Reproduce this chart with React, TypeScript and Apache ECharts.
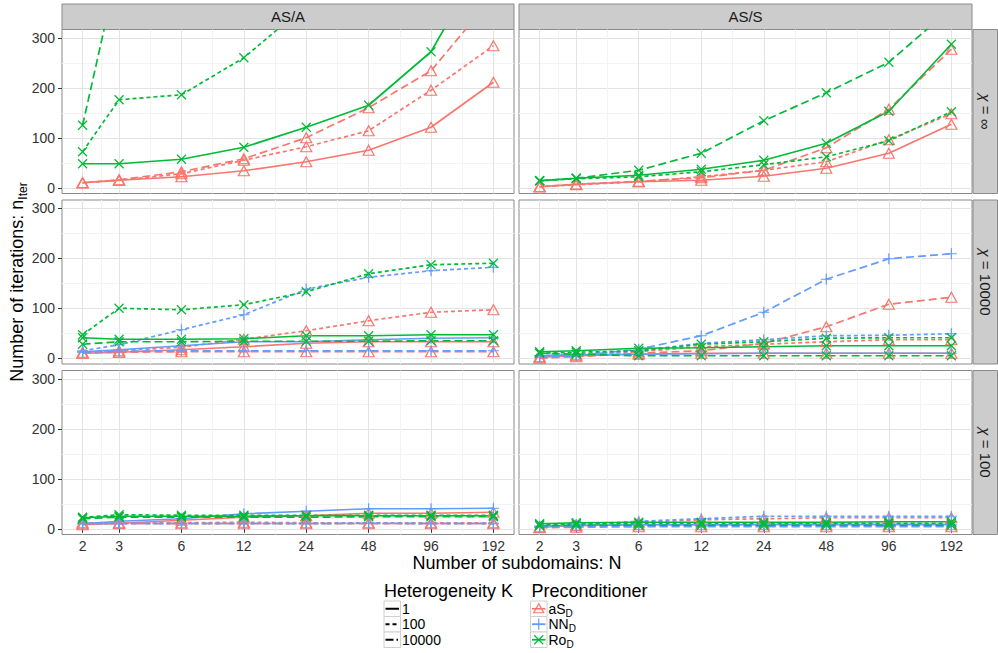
import React, { useEffect, useRef } from "react";
import * as echarts from "echarts";

// ---------- data ----------
const N = [2, 3, 6, 12, 24, 48, 96, 192];
const xTickLabels = ["2", "3", "6", "12", "24", "48", "96", "192"];
const yTicks = [0, 100, 200, 300];
const yMinorTicks = [50, 150, 250];
const columns = ["AS/A", "AS/S"];
const rowLabels = ["∞", "10000", "100"];
const preconditioners = ["aS", "NN", "Ro"];
const heterogeneities = ["1", "100", "10000"];

// AS/A, chi = inf (no NN_D); null = off the chart
const asA_inf_aS_K1 = [10, 15, 22, 34, 52, 75, 121, 211];
const asA_inf_aS_K100 = [10, 15, 28, 55, 82, 114, 195, 284];
const asA_inf_aS_K10000 = [10, 16, 32, 58, 100, 160, 234, 383];
const asA_inf_Ro_K1 = [48, 48, 57, 81, 121, 165, 272, 490];
const asA_inf_Ro_K100 = [72, 176, 186, 260, 365, null, null, null];
const asA_inf_Ro_K10000 = [125, 450, null, null, null, null, null, null];

// AS/S, chi = inf
const asS_inf_aS_K1 = [2, 7, 12, 15, 23, 39, 69, 127];
const asS_inf_aS_K100 = [2, 6, 12, 22, 35, 52, 96, 148];
const asS_inf_aS_K10000 = [2, 7, 13, 20, 35, 80, 157, 277];
const asS_inf_Ro_K1 = [14, 19, 25, 37, 55, 89, 153, 287];
const asS_inf_Ro_K100 = [14, 18, 22, 32, 46, 62, 94, 152];
const asS_inf_Ro_K10000 = [14, 19, 35, 69, 134, 190, 251, 359];

// AS/A, chi = 10000
const asA_1e4_aS_K1 = [10, 12, 17, 23, 30, 33, 33, 33];
const asA_1e4_aS_K100 = [12, 15, 22, 38, 55, 75, 92, 97];
const asA_1e4_aS_K10000 = [10, 12, 13, 13, 13, 13, 13, 13];
const asA_1e4_NN_K1 = [13, 17, 25, 33, 33, 37, 40, 41];
const asA_1e4_NN_K100 = [15, 27, 57, 87, 138, 162, 175, 182];
const asA_1e4_NN_K10000 = [12, 14, 15, 15, 15, 15, 15, 15];
const asA_1e4_Ro_K1 = [41, 38, 38, 39, 45, 45, 47, 47];
const asA_1e4_Ro_K100 = [47, 100, 97, 107, 133, 169, 187, 190];
const asA_1e4_Ro_K10000 = [28, 33, 33, 34, 34, 34, 35, 35];

// AS/S, chi = 10000
const asS_1e4_aS_K1 = [2, 5, 8, 10, 10, 10, 10, 10];
const asS_1e4_aS_K100 = [3, 7, 13, 23, 28, 33, 37, 37];
const asS_1e4_aS_K10000 = [0, 3, 10, 15, 30, 63, 108, 122];
const asS_1e4_NN_K1 = [5, 7, 8, 9, 10, 10, 10, 10];
const asS_1e4_NN_K100 = [5, 8, 15, 30, 37, 45, 46, 49];
const asS_1e4_NN_K10000 = [2, 5, 18, 45, 92, 158, 199, 209];
const asS_1e4_Ro_K1 = [13, 15, 20, 21, 23, 25, 25, 25];
const asS_1e4_Ro_K100 = [10, 12, 15, 28, 33, 40, 41, 41];
const asS_1e4_Ro_K10000 = [10, 8, 5, 5, 5, 5, 5, 5];

// AS/A, chi = 100
const asA_100_aS_K1 = [8, 11, 17, 23, 26, 31, 31, 33];
const asA_100_aS_K100 = [12, 12, 12, 13, 12, 12, 12, 12];
const asA_100_aS_K10000 = [10, 10, 10, 10, 10, 10, 10, 10];
const asA_100_NN_K1 = [10, 15, 20, 30, 35, 40, 40, 41];
const asA_100_NN_K100 = [10, 10, 10, 10, 10, 11, 10, 10];
const asA_100_NN_K10000 = [11, 11, 11, 11, 11, 11, 11, 11];
const asA_100_Ro_K1 = [22, 25, 25, 25, 26, 26, 26, 26];
const asA_100_Ro_K100 = [23, 28, 27, 27, 27, 27, 27, 27];
const asA_100_Ro_K10000 = [20, 23, 23, 23, 23, 24, 24, 24];

// AS/S, chi = 100
const asS_100_aS_K1 = [4, 6, 8, 8, 8, 8, 8, 8];
const asS_100_aS_K100 = [3, 7, 13, 18, 20, 22, 22, 22];
const asS_100_aS_K10000 = [2, 3, 4, 4, 4, 4, 4, 4];
const asS_100_NN_K1 = [5, 7, 8, 8, 9, 9, 9, 9];
const asS_100_NN_K100 = [5, 8, 15, 20, 25, 25, 25, 25];
const asS_100_NN_K10000 = [3, 5, 5, 5, 5, 5, 5, 5];
const asS_100_Ro_K1 = [10, 12, 13, 13, 13, 13, 14, 14];
const asS_100_Ro_K100 = [8, 10, 11, 11, 11, 11, 11, 11];
const asS_100_Ro_K10000 = [6, 7, 7, 7, 7, 7, 7, 7];

// panels in order row-major: [row][col] -> [precond][K]
type Arr = (number | null)[] | null;
const panels: Arr[][][] = [
  [
    [[asA_inf_aS_K1, asA_inf_aS_K100, asA_inf_aS_K10000], [null, null, null], [asA_inf_Ro_K1, asA_inf_Ro_K100, asA_inf_Ro_K10000]],
    [[asS_inf_aS_K1, asS_inf_aS_K100, asS_inf_aS_K10000], [null, null, null], [asS_inf_Ro_K1, asS_inf_Ro_K100, asS_inf_Ro_K10000]],
  ],
  [
    [[asA_1e4_aS_K1, asA_1e4_aS_K100, asA_1e4_aS_K10000], [asA_1e4_NN_K1, asA_1e4_NN_K100, asA_1e4_NN_K10000], [asA_1e4_Ro_K1, asA_1e4_Ro_K100, asA_1e4_Ro_K10000]],
    [[asS_1e4_aS_K1, asS_1e4_aS_K100, asS_1e4_aS_K10000], [asS_1e4_NN_K1, asS_1e4_NN_K100, asS_1e4_NN_K10000], [asS_1e4_Ro_K1, asS_1e4_Ro_K100, asS_1e4_Ro_K10000]],
  ],
  [
    [[asA_100_aS_K1, asA_100_aS_K100, asA_100_aS_K10000], [asA_100_NN_K1, asA_100_NN_K100, asA_100_NN_K10000], [asA_100_Ro_K1, asA_100_Ro_K100, asA_100_Ro_K10000]],
    [[asS_100_aS_K1, asS_100_aS_K100, asS_100_aS_K10000], [asS_100_NN_K1, asS_100_NN_K100, asS_100_NN_K10000], [asS_100_Ro_K1, asS_100_Ro_K100, asS_100_Ro_K10000]],
  ],
];

// ---------- styling ----------
const FONT = "'Liberation Sans', Arial, Helvetica, sans-serif";
const COLORS = ["#F8766D", "#619CFF", "#00BA38"];
const DASHES: any[] = ["solid", [4, 3], [8, 4]];
const SYMBOLS = ["triangle", "path://M5,0L5,10M0,5L10,5", "path://M0,0L10,10M0,10L10,0"];
const SYMBOL_SIZES: any[] = [[11, 10], 11, 9];

const colLeft = [62, 519];
const colWidth = [452, 453];
const rowTop = [29.5, 200, 370.5];
const rowHeight = 164;
const Y_MIN = -11.5;
const Y_MAX = 316.5;
const X_PAD = 0.33;

const xLog = N.map((n) => Math.log2(n));
const xMinor = xLog.slice(0, -1).map((v, i) => (v + xLog[i + 1]) / 2);
const X_MIN = xLog[0] - X_PAD;
const X_MAX = xLog[xLog.length - 1] + X_PAD;

function buildOption() {
  const grid: any[] = [];
  const xAxis: any[] = [];
  const yAxis: any[] = [];
  const series: any[] = [];
  const graphic: any[] = [];

  for (let r = 0; r < 3; r++) {
    for (let c = 0; c < 2; c++) {
      const p = r * 2 + c;
      grid.push({
        left: colLeft[c],
        top: rowTop[r],
        width: colWidth[c],
        height: rowHeight,
        show: true,
        backgroundColor: "#ffffff",
        borderColor: "#8a8a8a",
        borderWidth: 1,
        containLabel: false,
      });
      const bottomRow = r === 2;
      const leftCol = c === 0;
      xAxis.push({
        gridIndex: p,
        type: "value",
        min: X_MIN,
        max: X_MAX,
        axisLine: { show: false },
        axisTick: { show: bottomRow, customValues: xLog, length: 4, lineStyle: { color: "#333333" } },
        axisLabel: {
          show: bottomRow,
          customValues: xLog,
          margin: 4,
          fontSize: 14,
          fontFamily: FONT,
          color: "#333333",
          formatter: (v: number) => {
            const i = xLog.findIndex((t) => Math.abs(t - v) < 1e-6);
            return i >= 0 ? xTickLabels[i] : "";
          },
        },
        splitLine: { show: true, lineStyle: { color: "#e3e3e3", width: 1 } },
      });
      xAxis.push({
        gridIndex: p,
        type: "value",
        min: X_MIN,
        max: X_MAX,
        axisLine: { show: false },
        axisTick: { show: false, customValues: xMinor },
        axisLabel: { show: false, customValues: xMinor },
        splitLine: { show: true, lineStyle: { color: "#f3f3f3", width: 1 } },
      });
      yAxis.push({
        gridIndex: p,
        type: "value",
        min: Y_MIN,
        max: Y_MAX,
        axisLine: { show: false },
        axisTick: { show: leftCol, customValues: yTicks, length: 4, lineStyle: { color: "#333333" } },
        axisLabel: {
          show: leftCol,
          customValues: yTicks,
          margin: 7,
          fontSize: 14,
          fontFamily: FONT,
          color: "#333333",
        },
        splitLine: { show: true, lineStyle: { color: "#e3e3e3", width: 1 } },
      });
      yAxis.push({
        gridIndex: p,
        type: "value",
        min: Y_MIN,
        max: Y_MAX,
        axisLine: { show: false },
        axisTick: { show: false, customValues: yMinorTicks },
        axisLabel: { show: false, customValues: yMinorTicks },
        splitLine: { show: true, lineStyle: { color: "#f3f3f3", width: 1 } },
      });

      for (let j = 0; j < 3; j++) {
        for (let k = 0; k < 3; k++) {
          const arr = panels[r][c][j][k];
          if (!arr) continue;
          const data: number[][] = [];
          arr.forEach((v, i) => {
            if (v != null) data.push([xLog[i], v]);
          });
          series.push({
            type: "line",
            name: `${preconditioners[j]}_${heterogeneities[k]}_${p}`,
            xAxisIndex: 2 * p,
            yAxisIndex: 2 * p,
            data,
            clip: true,
            silent: true,
            symbol: SYMBOLS[j],
            symbolSize: SYMBOL_SIZES[j],
            showSymbol: true,
            lineStyle: { color: COLORS[j], width: 1.7, type: DASHES[k] },
            itemStyle: { color: "rgba(255,255,255,0)", borderColor: COLORS[j], borderWidth: 1.2 },
            z: 3,
          });
        }
      }
    }
  }

  // top strips
  for (let c = 0; c < 2; c++) {
    graphic.push({
      type: "rect",
      shape: { x: colLeft[c], y: 4, width: colWidth[c], height: rowTop[0] - 4 },
      style: { fill: "#cccccc", stroke: "#8a8a8a", lineWidth: 1 },
    });
    graphic.push({
      type: "text",
      x: colLeft[c] + colWidth[c] / 2,
      y: 4 + (rowTop[0] - 4) / 2,
      style: { text: columns[c], fill: "#1a1a1a", font: `15px ${FONT}`, align: "center", verticalAlign: "middle" },
    });
  }
  // right strips
  const stripX = colLeft[1] + colWidth[1] + 1;
  for (let r = 0; r < 3; r++) {
    graphic.push({
      type: "rect",
      shape: { x: stripX, y: rowTop[r], width: 998 - stripX - 0.5, height: rowHeight },
      style: { fill: "#cccccc", stroke: "#8a8a8a", lineWidth: 1 },
    });
    graphic.push({
      type: "text",
      x: stripX + (998 - stripX) / 2,
      y: rowTop[r] + rowHeight / 2,
      rotation: -Math.PI / 2,
      style: {
        text: `{c|χ}{t| = ${rowLabels[r]}}`,
        align: "center",
        verticalAlign: "middle",
        rich: {
          c: { fontSize: 15, fontFamily: FONT, fontStyle: "italic", fill: "#1a1a1a" },
          t: { fontSize: 15, fontFamily: FONT, fill: "#1a1a1a" },
        },
      },
    });
  }

  // axis titles
  graphic.push({
    type: "text",
    x: (colLeft[0] + colLeft[1] + colWidth[1]) / 2,
    y: 563,
    style: { text: "Number of subdomains: N", fill: "#000", font: `18px ${FONT}`, align: "center", verticalAlign: "middle" },
  });
  graphic.push({
    type: "text",
    x: 17,
    y: (rowTop[0] + rowTop[2] + rowHeight) / 2,
    rotation: Math.PI / 2,
    style: {
      text: "{a|Number of iterations: n}{b|Iter}",
      align: "center",
      verticalAlign: "middle",
      rich: {
        a: { fontSize: 18, fontFamily: FONT, fill: "#000", lineHeight: 24, verticalAlign: "middle" },
        b: { fontSize: 12, fontFamily: FONT, fill: "#000", verticalAlign: "bottom" },
      },
    },
  });

  // legends
  const keyH = 15.5;
  const keyW = 16.5;
  const keyTop = 601;
  const legK = 384;
  const legP = 530.5;
  graphic.push({
    type: "text",
    x: legK,
    y: 591,
    style: { text: "Heterogeneity K", fill: "#000", font: `18px ${FONT}`, align: "left", verticalAlign: "middle" },
  });
  graphic.push({
    type: "text",
    x: legP + 1,
    y: 591,
    style: { text: "Preconditioner", fill: "#000", font: `18px ${FONT}`, align: "left", verticalAlign: "middle" },
  });
  const legendDash: any[] = [null, [4, 3], [8, 3, 1.5, 3]];
  for (let i = 0; i < 3; i++) {
    const cy = keyTop + i * keyH + keyH / 2;
    graphic.push({
      type: "rect",
      shape: { x: legK, y: keyTop + i * keyH, width: keyW, height: keyH },
      style: { fill: "#ffffff", stroke: "#d0d0d0", lineWidth: 1 },
    });
    graphic.push({
      type: "line",
      shape: { x1: legK + 1.5, y1: cy, x2: legK + keyW - 1.5, y2: cy },
      style: { stroke: "#000", lineWidth: 2, lineDash: legendDash[i] },
    });
    graphic.push({
      type: "text",
      x: legK + keyW + 1.5,
      y: cy,
      style: { text: heterogeneities[i], fill: "#000", font: `14px ${FONT}`, align: "left", verticalAlign: "middle" },
    });

    graphic.push({
      type: "rect",
      shape: { x: legP, y: keyTop + i * keyH, width: keyW, height: keyH },
      style: { fill: "#ffffff", stroke: "#d0d0d0", lineWidth: 1 },
    });
    graphic.push({
      type: "line",
      shape: { x1: legP + 1.5, y1: cy, x2: legP + keyW - 1.5, y2: cy },
      style: { stroke: COLORS[i], lineWidth: 1.7 },
    });
    const mx = legP + keyW / 2;
    if (i === 0) {
      graphic.push({
        type: "polygon",
        shape: { points: [[mx - 5, cy + 4], [mx + 5, cy + 4], [mx, cy - 5]] },
        style: { fill: "none", stroke: COLORS[i], lineWidth: 1.2 },
      });
    } else if (i === 1) {
      graphic.push({ type: "line", shape: { x1: mx - 5.5, y1: cy, x2: mx + 5.5, y2: cy }, style: { stroke: COLORS[i], lineWidth: 1.2 } });
      graphic.push({ type: "line", shape: { x1: mx, y1: cy - 5.5, x2: mx, y2: cy + 5.5 }, style: { stroke: COLORS[i], lineWidth: 1.2 } });
    } else {
      graphic.push({ type: "line", shape: { x1: mx - 4.5, y1: cy - 4.5, x2: mx + 4.5, y2: cy + 4.5 }, style: { stroke: COLORS[i], lineWidth: 1.2 } });
      graphic.push({ type: "line", shape: { x1: mx - 4.5, y1: cy + 4.5, x2: mx + 4.5, y2: cy - 4.5 }, style: { stroke: COLORS[i], lineWidth: 1.2 } });
    }
    graphic.push({
      type: "text",
      x: legP + keyW + 1.5,
      y: cy,
      style: {
        text: `{a|${preconditioners[i]}}{b|D}`,
        align: "left",
        verticalAlign: "middle",
        rich: {
          a: { fontSize: 14, fontFamily: FONT, fill: "#000", lineHeight: 19, verticalAlign: "middle" },
          b: { fontSize: 10, fontFamily: FONT, fill: "#000", verticalAlign: "bottom" },
        },
      },
    });
  }

  return {
    animation: false,
    backgroundColor: "#ffffff",
    grid,
    xAxis,
    yAxis,
    series,
    graphic,
  };
}

export default function App() {
  const ref = useRef<HTMLDivElement>(null);
  useEffect(() => {
    if (!ref.current) return;
    const chart = echarts.init(ref.current, undefined, { renderer: "svg" });
    chart.setOption(buildOption() as any);
    return () => chart.dispose();
  }, []);
  return (
    <div
      ref={ref}
      style={{ position: "fixed", left: 0, top: 0, width: 998, height: 653, background: "#fff" }}
    />
  );
}
